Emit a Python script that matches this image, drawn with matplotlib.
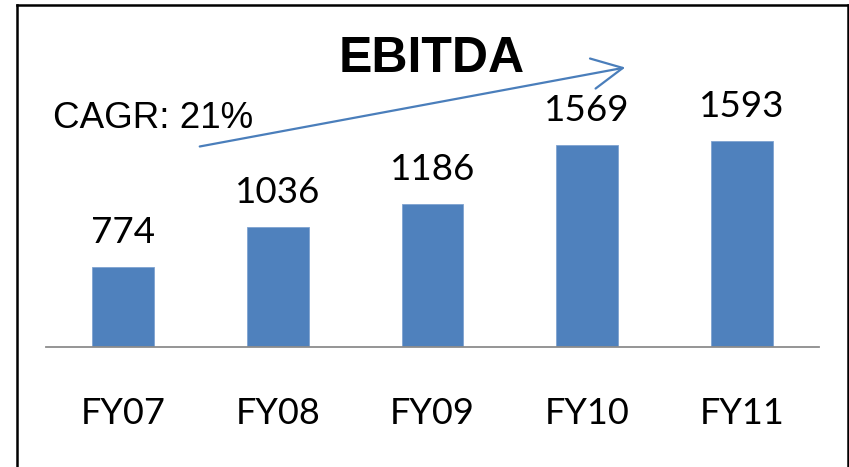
import matplotlib
matplotlib.use("Agg")
import matplotlib.pyplot as plt
from matplotlib.lines import Line2D
from matplotlib.patches import FancyArrowPatch

categories = ["FY07", "FY08", "FY09", "FY10", "FY11"]
ebitda = [774, 1036, 1186, 1569, 1593]
title = "EBITDA"
cagr_label = "CAGR: 21%"

W, H = 849, 467
fig = plt.figure(figsize=(W / 100, H / 100), dpi=100)
fig.patch.set_facecolor("white")

def fx(px):
    return px / W

def fy(py):
    return (H - py) / H

ax_left, ax_right, ax_bottom, ax_top = 46, 819, 347, 30
ax = fig.add_axes([fx(ax_left), fy(ax_bottom), fx(ax_right - ax_left), (ax_bottom - ax_top) / H])
ax.set_facecolor("none")

x = list(range(len(categories)))
bars = ax.bar(x, ebitda, width=0.4, color="#4F81BD", edgecolor="#7FA3D0", linewidth=0.6, bottom=0)
ax.set_xlim(-0.5, len(categories) - 0.5)
ax.set_ylim(254, 2315)

for xi, v in zip(x, ebitda):
    ax.annotate(str(v), (xi, v), xytext=(0, 17), textcoords="offset points",
                ha="center", va="baseline", fontsize=26.5, family="Lato", color="black")

for s in ["top", "left", "right"]:
    ax.spines[s].set_visible(False)
ax.spines["bottom"].set_color("#8C8C8C")
ax.spines["bottom"].set_linewidth(1.3)
ax.set_yticks([])
ax.set_xticks(x)
ax.set_xticklabels(categories, fontsize=26, family="Lato")
ax.tick_params(axis="x", length=0, pad=36)

# Title and annotation
fig.text(fx(432), fy(72), title, ha="center", va="baseline", fontsize=36,
         fontweight="bold", family="Liberation Sans", color="black")
fig.text(fx(53), fy(128), cagr_label, ha="left", va="baseline", fontsize=26.5,
         family="Liberation Sans", color="black")

arrow = FancyArrowPatch((fx(197), fy(147)), (fx(628), fy(67)), transform=fig.transFigure,
                        arrowstyle="->,head_length=1.0,head_width=0.5", mutation_scale=22,
                        color="#4A7EBB", linewidth=1.6)
fig.add_artist(arrow)

# Outer border
bc = "black"
blw = 1.8
fig.add_artist(Line2D([fx(16.5), fx(16.5)], [fy(4.5), fy(470)], transform=fig.transFigure, color=bc, lw=blw))
fig.add_artist(Line2D([fx(16.5), fx(847.5)], [fy(4.5), fy(4.5)], transform=fig.transFigure, color=bc, lw=blw))
fig.add_artist(Line2D([fx(847.5), fx(847.5)], [fy(4.5), fy(470)], transform=fig.transFigure, color=bc, lw=blw))

fig.savefig("out.png", dpi=100)
